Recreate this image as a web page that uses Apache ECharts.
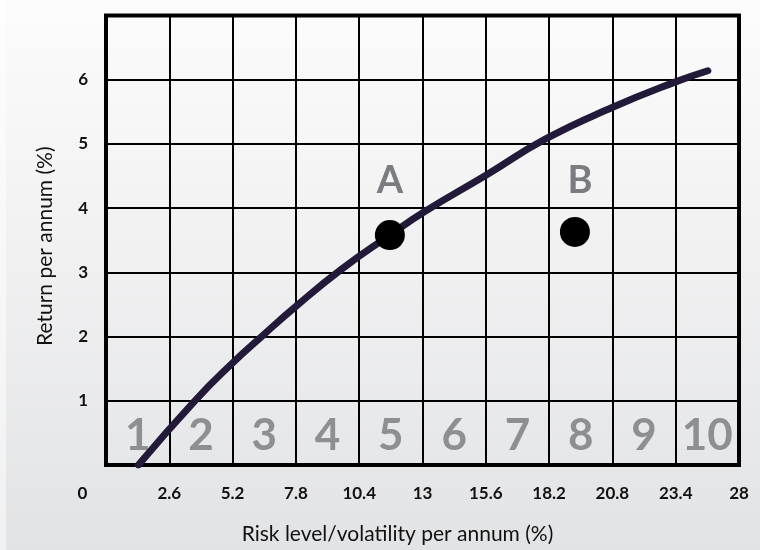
<!DOCTYPE html>
<html>
<head>
<meta charset="utf-8">
<script src="https://cdn.jsdelivr.net/npm/echarts@6/dist/echarts.min.js"></script>
<style>
html,body{margin:0;padding:0;background:#fff;}
#chart{width:760px;height:550px;background:linear-gradient(to right, rgba(255,255,255,0.5) 0 6px, transparent 6px), linear-gradient(#fcfcfc, #e2e3e5);}
</style>
</head>
<body>
<div id="chart"></div>
<script>
// Tick labels
const xTickLabels = ['0','2.6','5.2','7.8','10.4','13','15.6','18.2','20.8','23.4','28'];
const yTickLabels = ['', '1', '2', '3', '4', '5', '6', ''];
// Risk-level columns (1..10) across the bottom row
const riskClasses = ['1','2','3','4','5','6','7','8','9','10'];
// Efficient-frontier curve: [risk %, return %]
const frontierRisk =   [1.33, 3.65, 5.23, 6.39, 7.83, 9.68, 11.66, 13.06, 15.64, 18.02, 20.81, 23.42, 24.72];
const frontierReturn = [0.00, 1.00, 1.60, 2.00, 2.48, 3.05, 3.58, 3.94, 4.52, 5.07, 5.57, 5.97, 6.14];
// Portfolios
const portfolioNames = ['A', 'B'];
const portfolioRisk = [11.66, 19.26];
const portfolioReturn = [3.58, 3.63];

const colWidth = 2.6;
const FONT = 'Lato';

const chart = echarts.init(document.getElementById('chart'), null, {renderer: 'canvas'});

const curveData = frontierRisk.map((x, i) => [x, frontierReturn[i]]);
const classData = riskClasses.map((c, i) => ({value: [(i + 0.5) * colWidth, 0.5], name: c}));
const labelOffsets = [[0, -54], [5, -51]];
const pointData = portfolioNames.map((n, i) => ({
  value: [portfolioRisk[i], portfolioReturn[i]],
  name: n,
  label: {offset: labelOffsets[i]}
}));

chart.setOption({
  backgroundColor: 'transparent',
  animation: false,
  grid: {
    left: 106, right: 21, top: 15.5, bottom: 84,
    show: true, borderColor: '#000', borderWidth: 4, backgroundColor: 'transparent'
  },
  xAxis: {
    type: 'value', min: 0, max: 26, interval: 2.6,
    axisLine: {show: false}, axisTick: {show: false},
    splitLine: {show: true, lineStyle: {color: '#000', width: 2}},
    axisLabel: {
      margin: 20, color: '#111', fontFamily: FONT, fontSize: 17, fontWeight: 'bold',
      formatter: function (v) {
        const i = Math.round(v / colWidth);
        if (i === 0) return '{z|' + xTickLabels[0] + '}';
        return xTickLabels[i];
      },
      rich: {z: {padding: [0, 47, 0, 0], color: '#111', fontFamily: FONT, fontSize: 17, fontWeight: 'bold'}}
    },
    name: 'Risk level/volatility per annum (%)',
    nameLocation: 'middle', nameGap: 59,
    nameTextStyle: {color: '#111', fontFamily: FONT, fontSize: 21, fontWeight: 'normal', padding: [0, 50, 0, 0]}
  },
  yAxis: {
    type: 'value', min: 0, max: 7, interval: 1,
    axisLine: {show: false}, axisTick: {show: false},
    splitLine: {show: true, lineStyle: {color: '#000', width: 2}},
    axisLabel: {
      margin: 18, color: '#111', fontFamily: FONT, fontSize: 17, fontWeight: 'bold',
      formatter: function (v) { return yTickLabels[Math.round(v)] || ''; }
    },
    name: 'Return per annum (%)',
    nameLocation: 'middle', nameGap: 50,
    nameTextStyle: {color: '#111', fontFamily: FONT, fontSize: 21, fontWeight: 'normal', padding: [0, 12, 0, 0]}
  },
  series: [
    {
      type: 'scatter', data: classData, symbolSize: 0, silent: true, z: 1,
      label: {
        show: true, position: 'inside', formatter: '{b}', offset: [0, 3],
        color: '#77787b', fontFamily: FONT, fontSize: 44, fontWeight: 'bold'
      }
    },
    {
      type: 'line', data: curveData, smooth: 0.5, showSymbol: false, z: 3,
      lineStyle: {color: '#221a38', width: 7, cap: 'round'}
    },
    {
      type: 'scatter', data: pointData, symbol: 'circle', symbolSize: 30, z: 4,
      itemStyle: {color: '#000', opacity: 1},
      label: {
        show: true, position: 'inside', formatter: '{b}',
        color: '#7b7c80', fontFamily: FONT, fontSize: 38, fontWeight: 'bold'
      }
    }
  ]
});
</script>
</body>
</html>
